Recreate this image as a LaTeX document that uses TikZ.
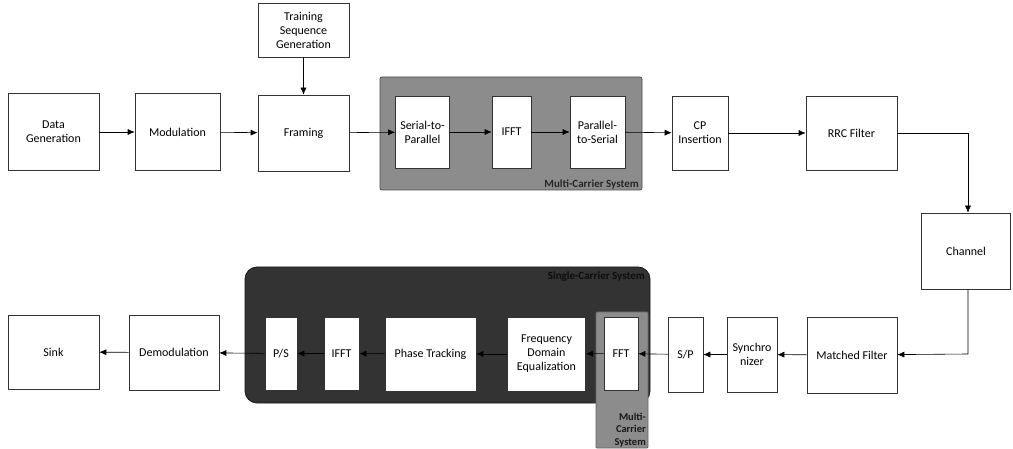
\documentclass[tikz,border=0pt]{standalone}
\usepackage{fontspec}
\setmainfont{Carlito}
\usetikzlibrary{arrows.meta}

\tikzset{
  blk/.style={draw=black!80, fill=white, line width=0.6pt, align=center,
    inner sep=1pt, font=\fontsize{12}{14}\selectfont},
  flow/.style={-{Latex[length=7pt,width=6pt]}, line width=0.6pt},
  mcbox/.style={draw=black!70, fill=black!45, line width=0.8pt},
  scbox/.style={draw=black!90, fill=black!80, line width=0.8pt},
  grplabel/.style={font=\fontsize{11}{12}\selectfont\bfseries, inner sep=1pt},
}

\begin{document}
\begin{tikzpicture}[x=1pt, y=-1pt]
  \useasboundingbox (0,0) rectangle (1013,449);

  % transmitter
  \draw[mcbox, rounded corners=2pt] (380,77) rectangle (642,190);
  \node[grplabel, anchor=south east, text=black!85] (mclabel) at (640,190) {Multi-Carrier System};

  \node[blk, minimum width=91pt, minimum height=77pt] (datagen) at (53.5,132) {Data\\Generation};
  \node[blk, minimum width=85pt, minimum height=77pt] (modul) at (177.5,132) {Modulation};
  \node[blk, minimum width=91pt, minimum height=76pt] (framing) at (303.5,133) {Framing};
  \node[blk, minimum width=91pt, minimum height=54pt] (trainseq) at (303.5,30) {Training\\Sequence\\Generation};
  \node[blk, minimum width=54pt, minimum height=72pt] (s2p) at (422.5,132) {Serial-to-\\Parallel};
  \node[blk, minimum width=39pt, minimum height=72pt] (txifft) at (511.5,132) {IFFT};
  \node[blk, minimum width=55pt, minimum height=72pt] (p2s) at (597.5,132) {Parallel-\\to-Serial};
  \node[blk, minimum width=56pt, minimum height=74pt] (cpins) at (700,133) {CP\\Insertion};
  \node[blk, minimum width=91pt, minimum height=74pt] (rrc) at (851.5,133) {RRC Filter};
  \node[blk, minimum width=89pt, minimum height=76pt] (channel) at (966,251) {Channel};
  \coordinate (rrcturn) at (968,133);

  \draw[flow] (datagen) -- (modul);
  \draw[flow] (modul) -- (framing);
  \draw[flow] (trainseq) -- (framing);
  \draw[flow] (framing) -- (s2p);
  \draw[flow] (s2p) -- (txifft);
  \draw[flow] (txifft) -- (p2s);
  \draw[flow] (p2s) -- (cpins);
  \draw[flow] (cpins) -- (rrc);
  \draw[flow] (rrc) -- (rrcturn) -- (rrcturn |- channel.north);

  % receiver
  \draw[scbox, rounded corners=12pt] (245,267) rectangle (650,403);
  \node[grplabel, anchor=north east, text=black!95] (sclabel) at (646,271) {Single-Carrier System};
  \draw[mcbox, draw=black!60, rounded corners=1pt] (596,312) rectangle (648,448);
  \node[grplabel, anchor=south east, align=right, text=black!90,
    font=\fontsize{10.5}{12.5}\selectfont\bfseries] (mclabel2) at (647,448) {Multi-\\Carrier\\System};

  \node[blk, minimum width=90pt, minimum height=76pt] (matched) at (852,355) {Matched Filter};
  \node[blk, minimum width=50pt, minimum height=75pt] (sync) at (752,354.5) {Synchro\\nizer};
  \node[blk, minimum width=35pt, minimum height=75pt] (sp) at (685.5,354.5) {S/P};
  \node[blk, minimum width=34pt, minimum height=73pt] (fft) at (621,353.5) {FFT};
  \node[blk, minimum width=78pt, minimum height=74pt] (fde) at (546.5,354) {Frequency\\Domain\\Equalization};
  \node[blk, minimum width=91pt, minimum height=74pt] (phase) at (430.5,354) {Phase Tracking};
  \node[blk, minimum width=35pt, minimum height=73pt] (rxifft) at (341.5,353.5) {IFFT};
  \node[blk, minimum width=32pt, minimum height=73pt] (ps) at (281,353.5) {P/S};
  \node[blk, minimum width=90pt, minimum height=75pt] (demod) at (174,352.5) {Demodulation};
  \node[blk, minimum width=91pt, minimum height=74pt] (sink) at (53.5,352) {Sink};
  \coordinate (chturn) at (968,354);

  \draw[flow] (channel.south -| chturn) -- (chturn) -- (matched);
  \draw[flow] (matched) -- (sync);
  \draw[flow] (sync) -- (sp);
  \draw[flow] (sp) -- (fft);
  \draw[flow] (fft) -- (fde);
  \draw[flow] (fde) -- (phase);
  \draw[flow] (phase) -- (rxifft);
  \draw[flow] (rxifft) -- (ps);
  \draw[flow] (ps) -- (demod);
  \draw[flow] (demod) -- (sink);
\end{tikzpicture}
\end{document}
